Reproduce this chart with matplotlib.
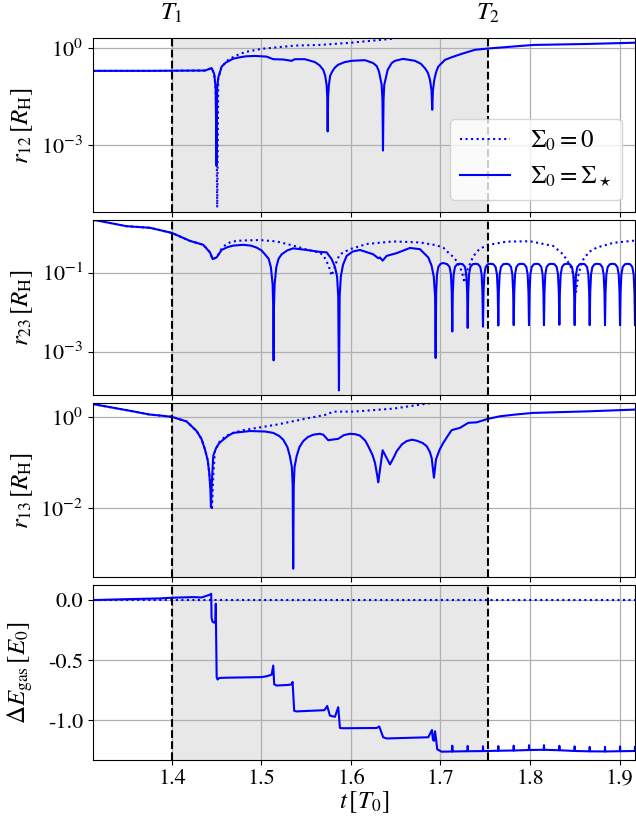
import numpy as np
import matplotlib
matplotlib.use("Agg")
import matplotlib.pyplot as plt
import matplotlib.ticker as mticker
import matplotlib.transforms as mtrans

plt.rcParams["font.family"] = "serif"
plt.rcParams["font.serif"] = ["STIXGeneral", "Liberation Serif", "DejaVu Serif"]
plt.rcParams["mathtext.fontset"] = "stix"
plt.rcParams["axes.unicode_minus"] = False
plt.rcParams["font.size"] = 16

# ------------------------------------------------------------------
# Data (t in T0, r given as log10 of r / R_H)
# ------------------------------------------------------------------
T1 = 1.40
T2 = 1.7527

# r12, Sigma0 = Sigma_star
t12_s = [1.3117, 1.3754, 1.4369, 1.4444, 1.4473, 1.4489, 1.4499, 1.4506, 1.4517,
         1.4555, 1.4600, 1.4680, 1.4741, 1.4830, 1.4927, 1.5058, 1.5132, 1.5244,
         1.5337, 1.5374, 1.5486, 1.5598, 1.5650, 1.5691, 1.5712, 1.5728, 1.5735,
         1.5740, 1.5745, 1.5754, 1.5768, 1.5791, 1.5820, 1.5858, 1.5930, 1.6008,
         1.6156, 1.6249, 1.6290, 1.6313, 1.6343, 1.6352, 1.6358, 1.6364, 1.6372,
         1.6410, 1.6455, 1.6492, 1.6584, 1.6715, 1.6780, 1.6827, 1.6860, 1.6883,
         1.6900, 1.6908, 1.6916, 1.6931, 1.6950, 1.6975, 1.7050, 1.7125, 1.7237,
         1.7385, 1.7531, 1.8037, 1.8633, 1.9184]
r12_s = [-0.70, -0.70, -0.69, -0.615, -0.80, -1.23, -3.64, -1.23, -0.92,
         -0.57, -0.45, -0.33, -0.29, -0.25, -0.24, -0.26, -0.34, -0.35,
         -0.39, -0.34, -0.34, -0.43, -0.53, -0.67, -0.85, -1.13, -1.50,
         -2.57, -1.50, -1.13, -0.85, -0.72, -0.60, -0.51, -0.43, -0.39,
         -0.37, -0.46, -0.56, -0.72, -1.13, -1.60, -3.16, -1.60, -1.13,
         -0.67, -0.46, -0.39, -0.33, -0.39, -0.48, -0.62, -0.76, -0.98,
         -1.30, -1.90, -1.30, -0.98, -0.75, -0.57, -0.36, -0.28, -0.175,
         -0.05, -0.01, 0.10, 0.13, 0.17]

# r12, Sigma0 = 0
t12_d = [1.3117, 1.3754, 1.4369, 1.4444, 1.4473, 1.4489, 1.4500, 1.4506, 1.4512,
         1.4518, 1.4555, 1.4629, 1.4667, 1.4740, 1.4816, 1.5002, 1.5374, 1.5654,
         1.6008, 1.6193, 1.6453, 1.6510, 1.7000, 1.9200]
r12_d = [-0.70, -0.70, -0.69, -0.615, -0.80, -1.30, -3.00, -4.92, -3.00,
         -0.95, -0.57, -0.36, -0.30, -0.20, -0.12, -0.02, 0.08, 0.10,
         0.17, 0.22, 0.29, 0.32, 0.42, 0.70]

# r23, Sigma0 = Sigma_star
t23_s = [1.3117, 1.3196, 1.3494, 1.3754, 1.4000, 1.4201, 1.4350, 1.4425, 1.4455,
         1.4499, 1.4555, 1.4620, 1.4685, 1.4797, 1.4880, 1.4946, 1.5000, 1.5039,
         1.5080, 1.5106, 1.5125, 1.5132, 1.5136, 1.5140, 1.5147, 1.5166, 1.5192,
         1.5226, 1.5290, 1.5355, 1.5505, 1.5654, 1.5728, 1.5784, 1.5820, 1.5845,
         1.5858, 1.5866, 1.5874, 1.5887, 1.5912, 1.5952, 1.6020, 1.6101, 1.6249,
         1.6305, 1.6324, 1.6354, 1.6399, 1.6511, 1.6659, 1.6771, 1.6864, 1.6900,
         1.6925, 1.6940, 1.6946,
         1.6952, 1.6961, 1.6976, 1.7001, 1.7031, 1.7076, 1.7102, 1.7117, 1.7126, 1.7132,
         1.7138, 1.7147, 1.7162, 1.7187, 1.7218, 1.7249, 1.7274, 1.7289, 1.7298, 1.7304,
         1.7310, 1.7319, 1.7334, 1.7359, 1.7390, 1.7420, 1.7445, 1.7460, 1.7469, 1.7475,
         1.7481, 1.7490, 1.7505, 1.7530, 1.7561, 1.7591, 1.7616, 1.7631, 1.7640, 1.7646,
         1.7652, 1.7661, 1.7676, 1.7701, 1.7732, 1.7763, 1.7788, 1.7803, 1.7812, 1.7818,
         1.7824, 1.7833, 1.7848, 1.7873, 1.7904, 1.7934, 1.7959, 1.7974, 1.7983, 1.7989,
         1.7995, 1.8004, 1.8019, 1.8044, 1.8073, 1.8101, 1.8126, 1.8141, 1.8150, 1.8156,
         1.8162, 1.8171, 1.8186, 1.8211, 1.8242, 1.8273, 1.8298, 1.8313, 1.8322, 1.8328,
         1.8334, 1.8343, 1.8358, 1.8383, 1.8414, 1.8444, 1.8469, 1.8484, 1.8493, 1.8499,
         1.8505, 1.8514, 1.8529, 1.8554, 1.8583, 1.8612, 1.8637, 1.8652, 1.8661, 1.8667,
         1.8673, 1.8682, 1.8697, 1.8722, 1.8753, 1.8783, 1.8808, 1.8823, 1.8832, 1.8838,
         1.8844, 1.8853, 1.8868, 1.8893, 1.8922, 1.8951, 1.8976, 1.8991, 1.9000, 1.9006,
         1.9012, 1.9021, 1.9036, 1.9061, 1.9090, 1.9118, 1.9143, 1.9158, 1.9167, 1.9173,
         1.9179, 1.9188, 1.9203]
r23_s = [0.33, 0.30, 0.17, 0.13, 0.00, -0.20, -0.30, -0.49, -0.66,
         -0.62, -0.43, -0.36, -0.32, -0.30, -0.32, -0.37, -0.44, -0.54,
         -0.65, -0.87, -1.30, -1.90, -3.22, -1.90, -1.30, -0.87, -0.65,
         -0.54, -0.44, -0.39, -0.43, -0.48, -0.49, -0.66, -0.85, -1.10,
         -1.60, -3.98, -1.60, -1.10, -0.80, -0.58, -0.47, -0.43, -0.54,
         -0.64, -0.62, -0.70, -0.58, -0.51, -0.38, -0.41, -0.62, -0.82,
         -1.10, -1.60, -3.16,
         -1.50, -1.05, -0.86, -0.78, -0.76, -0.79, -0.86, -1.05, -1.50, -2.49,
         -1.50, -1.05, -0.86, -0.79, -0.78, -0.79, -0.86, -1.05, -1.50, -2.40,
         -1.50, -1.05, -0.86, -0.79, -0.78, -0.79, -0.86, -1.05, -1.50, -2.37,
         -1.50, -1.05, -0.86, -0.79, -0.78, -0.79, -0.86, -1.05, -1.50, -2.34,
         -1.50, -1.05, -0.86, -0.79, -0.78, -0.79, -0.86, -1.05, -1.50, -2.33,
         -1.50, -1.05, -0.86, -0.79, -0.78, -0.79, -0.86, -1.05, -1.50, -2.33,
         -1.50, -1.05, -0.86, -0.79, -0.78, -0.79, -0.86, -1.05, -1.50, -2.33,
         -1.50, -1.05, -0.86, -0.79, -0.78, -0.79, -0.86, -1.05, -1.50, -2.32,
         -1.50, -1.05, -0.86, -0.79, -0.78, -0.79, -0.86, -1.05, -1.50, -2.33,
         -1.50, -1.05, -0.86, -0.79, -0.78, -0.79, -0.86, -1.05, -1.50, -2.33,
         -1.50, -1.05, -0.86, -0.79, -0.78, -0.79, -0.86, -1.05, -1.50, -2.33,
         -1.50, -1.05, -0.86, -0.79, -0.78, -0.79, -0.86, -1.05, -1.50, -2.33,
         -1.50, -1.05, -0.86, -0.79, -0.78, -0.79, -0.86, -1.05, -1.50, -2.33,
         -1.50, -1.05, -0.86]

# r23, Sigma0 = 0
t23_d = [1.3117, 1.3196, 1.3494, 1.3754, 1.4000, 1.4201, 1.4350, 1.4425, 1.4455,
         1.4499, 1.4555, 1.4600, 1.4648, 1.4720, 1.4816, 1.4983, 1.5170, 1.5355,
         1.5505, 1.5654, 1.5700, 1.5728, 1.5755, 1.5770, 1.5784, 1.5800, 1.5821,
         1.5845, 1.5877, 1.5989, 1.6175, 1.6473, 1.6771, 1.6950, 1.7031, 1.7069,
         1.7130, 1.7181, 1.7215, 1.7237, 1.7255, 1.7266, 1.7280, 1.7311, 1.7366,
         1.7430, 1.7516, 1.7740, 1.8000, 1.8260, 1.8350, 1.8410, 1.8455, 1.8484,
         1.8505, 1.8514, 1.8525, 1.8542, 1.8570, 1.8596, 1.8660, 1.8745, 1.8931,
         1.9184]
r23_d = [0.33, 0.30, 0.17, 0.13, 0.00, -0.20, -0.30, -0.49, -0.66,
         -0.62, -0.40, -0.30, -0.24, -0.20, -0.19, -0.18, -0.215, -0.32,
         -0.42, -0.50, -0.60, -0.72, -0.86, -0.97, -1.08, -0.97, -0.85,
         -0.68, -0.54, -0.41, -0.28, -0.215, -0.24, -0.31, -0.37, -0.46,
         -0.58, -0.71, -0.85, -0.97, -1.12, -1.26, -1.05, -0.88, -0.59,
         -0.42, -0.31, -0.22, -0.21, -0.33, -0.50, -0.67, -0.86, -1.05,
         -1.30, -1.51, -1.30, -1.05, -0.82, -0.67, -0.48, -0.37, -0.25,
         -0.19]

# r13, Sigma0 = Sigma_star
t13_s = [1.3117, 1.3568, 1.3754, 1.3866, 1.4000, 1.4164, 1.4276, 1.4330, 1.4369,
         1.4400, 1.4417, 1.4430, 1.4436, 1.4447, 1.4462, 1.4494, 1.4530, 1.4573,
         1.4630, 1.4685, 1.4872, 1.5040, 1.5132, 1.5200, 1.5244, 1.5290, 1.5318,
         1.5340, 1.5349, 1.5355, 1.5361, 1.5370, 1.5393, 1.5425, 1.5467, 1.5520,
         1.5579, 1.5650, 1.5691, 1.5746, 1.5858, 1.5920, 1.5989, 1.6050, 1.6101,
         1.6160, 1.6193, 1.6240, 1.6268, 1.6295, 1.6305, 1.6354, 1.6436, 1.6480,
         1.6511, 1.6570, 1.6622, 1.6680, 1.6734, 1.6800, 1.6846, 1.6880, 1.6902,
         1.6927, 1.6950, 1.6990, 1.7031, 1.7080, 1.7125, 1.7143, 1.7218, 1.7311,
         1.7405, 1.7527, 1.7665, 1.7832, 1.8037, 1.8633, 1.9184]
r13_s = [0.28, 0.12, 0.05, 0.03, 0.00, -0.10, -0.31, -0.48, -0.71,
         -0.95, -1.22, -1.60, -1.97, -1.40, -0.85, -0.68, -0.57, -0.50,
         -0.41, -0.35, -0.31, -0.32, -0.35, -0.42, -0.50, -0.66, -0.86,
         -1.10, -1.50, -3.32, -1.50, -1.10, -0.86, -0.66, -0.53, -0.44,
         -0.39, -0.37, -0.39, -0.51, -0.48, -0.40, -0.37, -0.38, -0.41,
         -0.52, -0.64, -0.83, -1.00, -1.30, -1.43, -0.73, -1.04, -0.88,
         -0.75, -0.60, -0.53, -0.50, -0.52, -0.57, -0.64, -0.76, -0.90,
         -1.33, -0.93, -0.72, -0.57, -0.42, -0.29, -0.28, -0.24, -0.13,
         -0.12, -0.045, 0.013, 0.05, 0.087, 0.12, 0.16]

# r13, Sigma0 = 0
t13_d = [1.3117, 1.3568, 1.3754, 1.3866, 1.4000, 1.4164, 1.4276, 1.4330, 1.4369,
         1.4400, 1.4417, 1.4436, 1.4447, 1.4462, 1.4480, 1.4530, 1.4600, 1.4685,
         1.4797, 1.5170, 1.5542, 1.5728, 1.5802, 1.6026, 1.6473, 1.6883, 1.7500,
         1.9200]
r13_d = [0.28, 0.12, 0.05, 0.03, 0.00, -0.10, -0.31, -0.48, -0.71,
         -0.95, -1.22, -1.60, -2.04, -1.30, -0.75, -0.55, -0.42, -0.35,
         -0.29, -0.17, -0.02, 0.05, 0.115, 0.115, 0.18, 0.30, 0.42,
         0.65]

# Delta E_gas, Sigma0 = Sigma_star
tE_s = [1.3117, 1.3500, 1.3866, 1.4000, 1.4238, 1.4331, 1.4425, 1.4439, 1.4443,
        1.4454, 1.4485, 1.4490, 1.4500, 1.4510, 1.4530, 1.4600, 1.5000, 1.5058,
        1.5114, 1.5132, 1.5143, 1.5170, 1.5300, 1.5337, 1.5348, 1.5366, 1.5393,
        1.5700, 1.5709, 1.5735, 1.5765, 1.5821, 1.5858, 1.5877, 1.5914, 1.6287,
        1.6316, 1.6360, 1.6399, 1.6864, 1.6905, 1.6916, 1.6927, 1.6939, 1.6950,
        1.6964, 1.7013,
        1.7130, 1.7132, 1.7135, 1.7302, 1.7304, 1.7307, 1.7473, 1.7475, 1.7478,
        1.7644, 1.7646, 1.7649, 1.7816, 1.7818, 1.7821, 1.7987, 1.7989, 1.7992,
        1.8154, 1.8156, 1.8159, 1.8326, 1.8328, 1.8331, 1.8497, 1.8499, 1.8502,
        1.8665, 1.8667, 1.8670, 1.8836, 1.8838, 1.8841, 1.9004, 1.9006, 1.9009,
        1.9171, 1.9173, 1.9176, 1.9200]
dE_s = [0.000, 0.008, 0.014, 0.020, 0.025, 0.022, 0.045, 0.053, -0.147,
        -0.180, -0.190, -0.030, -0.640, -0.660, -0.647, -0.645, -0.640, -0.633,
        -0.620, -0.544, -0.700, -0.710, -0.705, -0.700, -0.680, -0.920, -0.925,
        -0.915, -0.910, -0.880, -0.960, -0.970, -0.890, -1.063, -1.065, -1.063,
        -1.050, -1.140, -1.150, -1.140, -1.080, -1.160, -1.170, -1.090, -1.150,
        -1.240, -1.260,
        -1.258, -1.210, -1.258, -1.256, -1.212, -1.256, -1.255, -1.215, -1.255,
        -1.252, -1.213, -1.252, -1.250, -1.210, -1.250, -1.246, -1.206, -1.246,
        -1.244, -1.206, -1.244, -1.248, -1.211, -1.248, -1.254, -1.216, -1.254,
        -1.257, -1.220, -1.257, -1.258, -1.220, -1.258, -1.256, -1.216, -1.256,
        -1.254, -1.218, -1.254, -1.254]

# Delta E_gas, Sigma0 = 0
tE_d = [1.3117, 1.9200]
dE_d = [0.0, 0.0]

# ------------------------------------------------------------------
# Figure
# ------------------------------------------------------------------
fig, axes = plt.subplots(4, 1, figsize=(6.36, 8.25), dpi=100, sharex=True)
fig.subplots_adjust(left=0.146, right=0.998, top=0.954, bottom=0.079, hspace=0.046)

blue = "#0000ff"
series = [
    (t12_d, r12_d, t12_s, r12_s, r"$r_{12}\,[R_{\rm H}]$", (8.5e-6, 2.07), [1e-3, 1e0]),
    (t23_d, r23_d, t23_s, r23_s, r"$r_{23}\,[R_{\rm H}]$", (8.1e-5, 2.07), [1e-3, 1e-1]),
    (t13_d, r13_d, t13_s, r13_s, r"$r_{13}\,[R_{\rm H}]$", (3.1e-4, 2.02), [1e-2, 1e0]),
]

for ax, (td, rd, ts, rs, lab, ylim, yt) in zip(axes[:3], series):
    ax.axvspan(T1, T2, color="lightgray", alpha=0.5, lw=0)
    ax.plot(td, 10 ** np.array(rd), ls=":", color=blue, lw=1.5, label=r"$\Sigma_0 = 0$")
    ax.plot(ts, 10 ** np.array(rs), ls="-", color=blue, lw=1.5, label=r"$\Sigma_0 = \Sigma_\star$")
    ax.set_yscale("log")
    ax.set_ylim(*ylim)
    ax.yaxis.set_major_locator(mticker.FixedLocator(yt))
    ax.yaxis.set_minor_locator(mticker.NullLocator())
    ax.set_ylabel(lab, fontsize=18)

ax = axes[3]
ax.axvspan(T1, T2, color="lightgray", alpha=0.5, lw=0)
ax.plot(tE_d, dE_d, ls=":", color=blue, lw=1.5)
ax.plot(tE_s, dE_s, ls="-", color=blue, lw=1.5)
ax.set_ylim(-1.3275, 0.1225)
ax.set_yticks([-1.0, -0.5, 0.0])
ax.yaxis.set_major_formatter(mticker.FormatStrFormatter("%.1f"))
ax.set_ylabel(r"$\Delta E_{\rm gas}\,[E_0]$", fontsize=18)
ax.set_xlabel(r"$t\,[T_0]$", fontsize=18, labelpad=0)

for ax in axes:
    ax.axvline(T1, color="k", ls="--", lw=1.5)
    ax.axvline(T2, color="k", ls="--", lw=1.5)
    ax.grid(True, color="#b0b0b0", lw=0.9)
    ax.set_xlim(1.3117, 1.917)
    ax.set_xticks([1.4, 1.5, 1.6, 1.7, 1.8, 1.9])

axes[0].legend(loc="lower right", fontsize=18, handlelength=2.0)

trans = mtrans.blended_transform_factory(axes[0].transData, axes[0].transAxes)
axes[0].text(T1, 1.07, r"$T_1$", transform=trans, ha="center", va="bottom", fontsize=18)
axes[0].text(T2, 1.07, r"$T_2$", transform=trans, ha="center", va="bottom", fontsize=18)

fig.align_ylabels(axes)
fig.savefig("out.png", dpi=100)
